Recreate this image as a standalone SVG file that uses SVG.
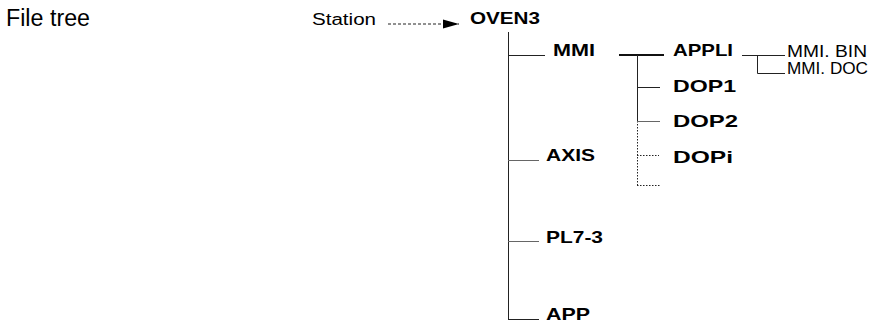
<svg xmlns="http://www.w3.org/2000/svg" width="879" height="324" viewBox="0 0 879 324">
<style>
.t{font-family:"Liberation Sans",Arial,sans-serif;fill:#000}
.b{font-weight:bold;font-size:17px}
.r{font-size:16px}
.ln{stroke:#222;stroke-width:1;fill:none}
.g{stroke:#666;stroke-width:1;fill:none}
.dt{stroke:#222;stroke-width:1;fill:none;stroke-dasharray:1.5 1.5}
</style>
<defs>
<marker id="ah" markerWidth="16" markerHeight="10" refX="16" refY="5" orient="auto" markerUnits="userSpaceOnUse">
<path d="M0,0.5 L16,5 L0,9.5 Z" fill="#000"/>
</marker>
</defs>
<rect width="879" height="324" fill="#fff"/>
<text class="t" x="6" y="26" font-size="23" textLength="84" lengthAdjust="spacingAndGlyphs">File tree</text>
<g id="connectors">
<line class="ln" x1="388" y1="24" x2="459" y2="24" stroke-dasharray="3 2" marker-end="url(#ah)"/>
<line class="ln" x1="508.5" y1="32" x2="508.5" y2="320"/>
<line class="ln" x1="508" y1="55.5" x2="545" y2="55.5"/>
<line class="g" x1="508" y1="160.5" x2="539" y2="160.5"/>
<line class="g" x1="508" y1="241.5" x2="539" y2="241.5"/>
<line class="ln" x1="508" y1="319.5" x2="539" y2="319.5"/>
<line stroke="#111" stroke-width="2" x1="619" y1="55" x2="664" y2="55"/>
<line class="ln" x1="637.5" y1="55" x2="637.5" y2="121"/>
<line class="dt" x1="637.5" y1="121" x2="637.5" y2="186"/>
<line class="ln" x1="637" y1="87.5" x2="660" y2="87.5"/>
<line class="g" x1="637" y1="121.5" x2="660" y2="121.5"/>
<line class="dt" x1="637" y1="155.5" x2="659" y2="155.5"/>
<line class="dt" x1="637" y1="185.5" x2="661" y2="185.5"/>
<line class="ln" x1="742" y1="55.5" x2="785" y2="55.5"/>
<polyline class="ln" points="757.5,55.5 757.5,73.5 785,73.5"/>
</g>
<g id="station"><text class="t r" x="312" y="25" textLength="64" lengthAdjust="spacingAndGlyphs">Station</text></g>
<g id="oven3"><text class="t b" x="470" y="24" textLength="70" lengthAdjust="spacingAndGlyphs">OVEN3</text></g>
<g id="mmi"><text class="t b" x="553" y="56" textLength="42" lengthAdjust="spacingAndGlyphs">MMI</text></g>
<g id="axis"><text class="t b" x="546" y="161" textLength="49" lengthAdjust="spacingAndGlyphs">AXIS</text></g>
<g id="pl73"><text class="t b" x="546" y="243" textLength="57" lengthAdjust="spacingAndGlyphs">PL7-3</text></g>
<g id="app"><text class="t b" x="546" y="320" textLength="44" lengthAdjust="spacingAndGlyphs">APP</text></g>
<g id="appli"><text class="t b" x="673" y="56" textLength="60" lengthAdjust="spacingAndGlyphs">APPLI</text></g>
<g id="dop1"><text class="t b" x="673" y="92" textLength="63" lengthAdjust="spacingAndGlyphs">DOP1</text></g>
<g id="dop2"><text class="t b" x="673" y="127" textLength="65" lengthAdjust="spacingAndGlyphs">DOP2</text></g>
<g id="dopi"><text class="t b" x="673" y="163" textLength="60" lengthAdjust="spacingAndGlyphs">DOPi</text></g>
<g id="mmibin"><text class="t r" x="787" y="57" textLength="80" lengthAdjust="spacingAndGlyphs">MMI. BIN</text></g>
<g id="mmidoc"><text class="t r" x="787" y="74" textLength="81" lengthAdjust="spacingAndGlyphs">MMI. DOC</text></g>
</svg>
